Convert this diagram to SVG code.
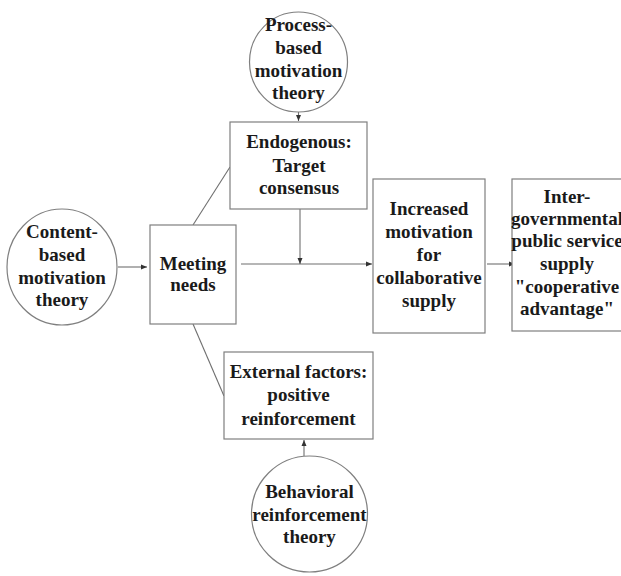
<svg xmlns="http://www.w3.org/2000/svg" width="621" height="576" viewBox="0 0 621 576">
<defs>
<style>
.shape{fill:#fff;stroke:#7f7f7f;stroke-width:1.2}
.t{font-family:"Liberation Serif","Times New Roman",serif;font-weight:bold;font-size:19px;fill:#1a1a1a;text-anchor:middle}
.c{stroke:#6f6f6f;stroke-width:1.1;fill:none}
.a{stroke:#6f6f6f;stroke-width:1.1;fill:none;marker-end:url(#ah)}
</style>
<marker id="ah" markerUnits="userSpaceOnUse" markerWidth="7" markerHeight="6" refX="6" refY="3" orient="auto">
<path d="M0,0.5 L6,3 L0,5.5 Z" fill="#333"/>
</marker>
</defs>
<rect width="621" height="576" fill="#fff"/>
<g id="connectors">
<line class="a" x1="298.5" y1="112" x2="298.5" y2="121"/>
<line class="a" x1="118" y1="267" x2="147" y2="267"/>
<line class="c" x1="193" y1="225" x2="230" y2="167"/>
<line class="c" x1="193" y1="324" x2="224" y2="396"/>
<line class="a" x1="241" y1="264" x2="372" y2="264"/>
<line class="a" x1="300" y1="209" x2="300" y2="264"/>
<line class="a" x1="487" y1="264" x2="515" y2="264"/>
<line class="a" x1="304" y1="456" x2="304" y2="440"/>
</g>
<g id="process">
<ellipse class="shape" cx="298.5" cy="62" rx="49" ry="50"/>
<text class="t" x="298.5" y="31">Process-</text>
<text class="t" x="298.5" y="54">based</text>
<text class="t" x="298.5" y="77">motivation</text>
<text class="t" x="298.5" y="99">theory</text>
</g>
<g id="content">
<ellipse class="shape" cx="62" cy="267" rx="55" ry="58"/>
<text class="t" x="62" y="238">Content-</text>
<text class="t" x="62" y="261">based</text>
<text class="t" x="62" y="284">motivation</text>
<text class="t" x="62" y="306">theory</text>
</g>
<g id="meeting">
<rect class="shape" x="150" y="225" width="86" height="99"/>
<text class="t" x="193" y="270">Meeting</text>
<text class="t" x="193" y="291">needs</text>
</g>
<g id="endogenous">
<rect class="shape" x="230" y="122" width="137" height="87"/>
<text class="t" x="299" y="148">Endogenous:</text>
<text class="t" x="299" y="172">Target</text>
<text class="t" x="299" y="194">consensus</text>
</g>
<g id="increased">
<rect class="shape" x="373" y="179" width="112" height="154"/>
<text class="t" x="429" y="215">Increased</text>
<text class="t" x="429" y="238">motivation</text>
<text class="t" x="429" y="261">for</text>
<text class="t" x="429" y="284">collaborative</text>
<text class="t" x="429" y="307">supply</text>
</g>
<g id="inter">
<rect class="shape" x="512" y="179" width="110" height="152"/>
<text class="t" x="567" y="203">Inter-</text>
<text class="t" x="567" y="225">governmental</text>
<text class="t" x="567" y="247">public service</text>
<text class="t" x="567" y="270">supply</text>
<text class="t" x="567" y="293">"cooperative</text>
<text class="t" x="567" y="315">advantage"</text>
</g>
<g id="external">
<rect class="shape" x="224" y="352" width="149" height="87"/>
<text class="t" x="298.5" y="378">External factors:</text>
<text class="t" x="298.5" y="401">positive</text>
<text class="t" x="298.5" y="425">reinforcement</text>
</g>
<g id="behavioral">
<ellipse class="shape" cx="309.5" cy="514" rx="58" ry="58"/>
<text class="t" x="309.5" y="498">Behavioral</text>
<text class="t" x="309.5" y="521">reinforcement</text>
<text class="t" x="309.5" y="543">theory</text>
</g>
</svg>
